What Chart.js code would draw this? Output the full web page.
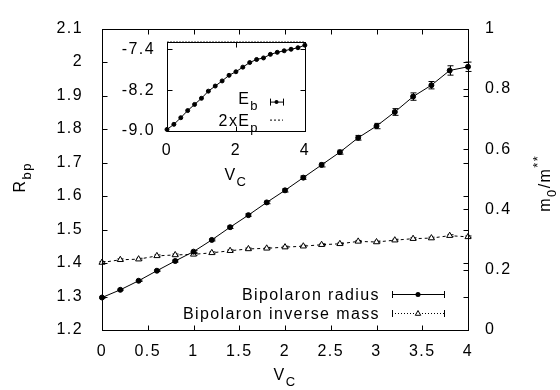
<!DOCTYPE html>
<html lang="en">
<head>
<meta charset="UTF-8">
<title>Bipolaron radius and inverse mass</title>
<script src="https://cdn.jsdelivr.net/npm/chart.js"></script>
<style>
  body { margin: 0; background: #fff; }
  #wrap { position: relative; width: 560px; height: 390px; }
  #main { position: absolute; left: 0; top: 0; width: 560px; height: 390px; }
  #inset { position: absolute; left: 110px; top: 20px; width: 210px; height: 175px; }
</style>
</head>
<body>
<div id="wrap">
  <div id="main"><canvas id="mainChart"></canvas></div>
  <div id="inset"><canvas id="insetChart"></canvas></div>
</div>
<script>
  // V_C values shared by all series
  const vc = [0, 0.2, 0.4, 0.6, 0.8, 1, 1.2, 1.4, 1.6, 1.8, 2, 2.2, 2.4, 2.6, 2.8, 3, 3.2, 3.4, 3.6, 3.8, 4];
  const radius = [1.297, 1.320, 1.347, 1.377, 1.406, 1.434, 1.469, 1.507, 1.543, 1.581, 1.617,
                  1.655, 1.693, 1.731, 1.774, 1.809, 1.851, 1.897, 1.931, 1.975, 1.986];
  const radiusErr = [0.002, 0.002, 0.002, 0.002, 0.003, 0.003, 0.003, 0.004, 0.004, 0.004, 0.005,
                     0.005, 0.006, 0.006, 0.007, 0.008, 0.010, 0.011, 0.011, 0.014, 0.014];
  const invMass = [0.224, 0.233, 0.235, 0.246, 0.249, 0.251, 0.256, 0.263, 0.269, 0.271, 0.275,
                   0.278, 0.283, 0.286, 0.294, 0.292, 0.298, 0.303, 0.305, 0.313, 0.309];
  const massErr = [0.003, 0.003, 0.003, 0.003, 0.003, 0.003, 0.003, 0.003, 0.003, 0.003, 0.003,
                   0.003, 0.003, 0.003, 0.003, 0.003, 0.003, 0.003, 0.003, 0.003, 0.003];
  // inset: E_b and 2 x E_p
  const eb = [-8.97, -8.87, -8.74, -8.60, -8.48, -8.36, -8.22, -8.12, -8.02, -7.91, -7.84,
              -7.75, -7.66, -7.60, -7.57, -7.50, -7.46, -7.43, -7.40, -7.37, -7.32];
  const ep2 = [-7.26, -7.26, -7.26, -7.26, -7.26, -7.26, -7.26, -7.26, -7.26, -7.26, -7.26,
               -7.26, -7.26, -7.26, -7.26, -7.26, -7.26, -7.26, -7.26, -7.26, -7.26];

  // tick labels
  const mainXTicks = [0, 0.5, 1, 1.5, 2, 2.5, 3, 3.5, 4];
  const mainYTicks = [1.2, 1.3, 1.4, 1.5, 1.6, 1.7, 1.8, 1.9, 2, 2.1];
  const mainY2Ticks = [0, 0.2, 0.4, 0.6, 0.8, 1];
  const insetXTicks = [0, 2, 4];
  const insetYTicks = [-9.0, -8.2, -7.4];

  const FONT = "'Liberation Sans', Arial, Helvetica, sans-serif";
  const FS = 16;
  Chart.defaults.font.family = FONT;
  Chart.defaults.font.size = FS;
  Chart.defaults.color = '#000';

  const pts = arr => arr.map((v, i) => ({ x: vc[i], y: v }));
  const setTicks = list => scale => { scale.ticks = list.map(v => ({ value: v })); };
  const fmt = v => String(Math.round(v * 10) / 10);

  // text with sub/superscripts, segs: [text, 0 | 'sub' | 'sup']
  function richText(ctx, segs, x, y, align, rot) {
    ctx.save();
    ctx.translate(x, y);
    if (rot) ctx.rotate(rot);
    ctx.textBaseline = 'alphabetic';
    ctx.textAlign = 'left';
    const small = Math.round(FS * 0.8);
    let w = 0;
    segs.forEach(s => {
      ctx.font = (s[1] ? small : FS) + 'px ' + FONT;
      s.w = ctx.measureText(s[0]).width;
      w += s.w;
    });
    let cx = align === 'center' ? -w / 2 : align === 'right' ? -w : 0;
    segs.forEach(s => {
      ctx.font = (s[1] ? small : FS) + 'px ' + FONT;
      const dy = s[1] === 'sub' ? 6 : s[1] === 'sup' ? -8 : 0;
      ctx.fillText(s[0], cx, dy);
      cx += s.w;
    });
    ctx.restore();
  }

  function hLineSample(ctx, x1, x2, y, dash, caps) {
    ctx.save();
    ctx.setLineDash(dash);
    ctx.beginPath();
    ctx.moveTo(x1, y + 0.5);
    ctx.lineTo(x2, y + 0.5);
    ctx.stroke();
    ctx.setLineDash([]);
    if (caps) {
      [x1, x2].forEach(x => {
        ctx.beginPath();
        ctx.moveTo(x + 0.5, y - 3);
        ctx.lineTo(x + 0.5, y + 4);
        ctx.stroke();
      });
    }
    ctx.restore();
  }

  function dot(ctx, x, y, r) {
    ctx.beginPath();
    ctx.arc(x, y, r, 0, Math.PI * 2);
    ctx.fill();
  }

  function triangle(ctx, x, y, r) {
    ctx.save();
    ctx.fillStyle = '#fff';
    ctx.beginPath();
    ctx.moveTo(x, y - r);
    ctx.lineTo(x + r * 0.9, y + r * 0.6);
    ctx.lineTo(x - r * 0.9, y + r * 0.6);
    ctx.closePath();
    ctx.fill();
    ctx.stroke();
    ctx.restore();
  }

  const spacing = {
    id: 'spacing',
    beforeLayout(chart) { chart.ctx.letterSpacing = '1.4px'; },
    beforeDraw(chart) { chart.ctx.letterSpacing = '1.4px'; }
  };

  // border box plus inward gnuplot style tick marks
  const frame = {
    id: 'frame',
    beforeDraw(chart, args, opts) {
      if (!opts.fill) return;
      const a = chart.chartArea;
      chart.ctx.save();
      chart.ctx.fillStyle = '#fff';
      chart.ctx.fillRect(a.left, a.top, a.right - a.left, a.bottom - a.top);
      chart.ctx.restore();
    },
    afterDraw(chart, args, opts) {
      const ctx = chart.ctx, a = chart.chartArea;
      ctx.save();
      ctx.strokeStyle = '#000';
      ctx.lineWidth = 1;
      const L = Math.round(a.left) + 0.5, R = Math.round(a.right) + 0.5;
      const T = Math.round(a.top) + 0.5, B = Math.round(a.bottom) + 0.5;
      ctx.strokeRect(L, T, R - L, B - T);
      const len = 5;
      (opts.marks || []).forEach(m => {
        const sc = chart.scales[m.scale];
        m.values.forEach(v => {
          const p = Math.round(sc.getPixelForValue(v)) + 0.5;
          ctx.beginPath();
          m.sides.forEach(side => {
            if (side === 'bottom') { ctx.moveTo(p, B); ctx.lineTo(p, B - len); }
            if (side === 'top') { ctx.moveTo(p, T); ctx.lineTo(p, T + len); }
            if (side === 'left') { ctx.moveTo(L, p); ctx.lineTo(L + len, p); }
            if (side === 'right') { ctx.moveTo(R, p); ctx.lineTo(R - len, p); }
          });
          ctx.stroke();
        });
      });
      ctx.restore();
    }
  };

  const errorBars = {
    id: 'errorBars',
    beforeDatasetsDraw(chart) {
      const ctx = chart.ctx;
      ctx.save();
      ctx.strokeStyle = '#000';
      ctx.lineWidth = 1;
      chart.data.datasets.forEach(ds => {
        if (!ds.errors) return;
        const xs = chart.scales.x, ys = chart.scales[ds.yAxisID || 'y'];
        ds.data.forEach((p, i) => {
          const x = Math.round(xs.getPixelForValue(p.x)) + 0.5;
          const y1 = ys.getPixelForValue(p.y - ds.errors[i]);
          const y2 = ys.getPixelForValue(p.y + ds.errors[i]);
          ctx.beginPath();
          ctx.moveTo(x, y1); ctx.lineTo(x, y2);
          ctx.moveTo(x - 3, y1); ctx.lineTo(x + 3, y1);
          ctx.moveTo(x - 3, y2); ctx.lineTo(x + 3, y2);
          ctx.stroke();
        });
      });
      ctx.restore();
    }
  };

  const mainDecor = {
    id: 'mainDecor',
    afterDraw(chart) {
      const ctx = chart.ctx, a = chart.chartArea;
      ctx.save();
      ctx.fillStyle = '#000';
      ctx.strokeStyle = '#000';
      ctx.lineWidth = 1;
      const cx = (a.left + a.right) / 2, cy = (a.top + a.bottom) / 2;
      richText(ctx, [['V', 0], ['C', 'sub']], cx, a.bottom + 50, 'center');
      richText(ctx, [['R', 0], ['bp', 'sub']], 25, cy - 2, 'center', -Math.PI / 2);
      richText(ctx, [['m', 0], ['0', 'sub'], ['/m', 0], ['**', 'sup']], 550, cy + 4, 'center', -Math.PI / 2);
      // legend
      const tx = a.right - 88, s1 = a.right - 76, s2 = a.right - 24, sm = (s1 + s2) / 2;
      ctx.font = FS + 'px ' + FONT;
      ctx.textAlign = 'right';
      ctx.textBaseline = 'alphabetic';
      ctx.fillText('Bipolaron radius', tx, a.bottom - 30);
      ctx.fillText('Bipolaron inverse mass', tx, a.bottom - 11);
      hLineSample(ctx, s1, s2, a.bottom - 36, [], true);
      dot(ctx, sm, a.bottom - 35.5, 2.5);
      hLineSample(ctx, s1, s2, a.bottom - 17, [1, 2], true);
      triangle(ctx, sm, a.bottom - 16.5, 3);
      ctx.restore();
    }
  };

  const insetDecor = {
    id: 'insetDecor',
    afterDraw(chart) {
      const ctx = chart.ctx, a = chart.chartArea;
      ctx.save();
      ctx.fillStyle = '#000';
      ctx.strokeStyle = '#000';
      ctx.lineWidth = 1;
      richText(ctx, [['V', 0], ['C', 'sub']], (a.left + a.right) / 2, a.bottom + 49, 'center');
      const tx = a.left + 92, s1 = a.left + 103, s2 = a.left + 116;
      richText(ctx, [['E', 0], ['b', 'sub']], tx, a.top + 62, 'right');
      richText(ctx, [['2xE', 0], ['p', 'sub']], tx, a.top + 84, 'right');
      hLineSample(ctx, s1, s2, a.top + 60, [], true);
      dot(ctx, (s1 + s2) / 2, a.top + 60.5, 2);
      hLineSample(ctx, s1, s2, a.top + 78, [2, 2], false);
      ctx.restore();
    }
  };

  new Chart(document.getElementById('mainChart'), {
    type: 'line',
    data: {
      datasets: [
        {
          label: 'Bipolaron radius',
          data: pts(radius),
          errors: radiusErr,
          yAxisID: 'y',
          borderColor: '#000',
          borderWidth: 1,
          pointRadius: 2.5,
          pointBackgroundColor: '#000',
          pointBorderColor: '#000',
          tension: 0,
          clip: false
        },
        {
          label: 'Bipolaron inverse mass',
          data: pts(invMass),
          errors: massErr,
          yAxisID: 'y2',
          borderColor: '#000',
          borderWidth: 1,
          borderDash: [3, 3],
          pointStyle: 'triangle',
          pointRadius: 3.5,
          pointBackgroundColor: '#fff',
          pointBorderColor: '#000',
          pointBorderWidth: 1,
          tension: 0,
          clip: false
        }
      ]
    },
    options: {
      responsive: true,
      maintainAspectRatio: false,
      animation: false,
      layout: { padding: { top: 15, left: 0, right: 0, bottom: 0 } },
      plugins: {
        legend: { display: false },
        tooltip: { enabled: false },
        frame: {
          marks: [
            { scale: 'x', values: mainXTicks, sides: ['bottom', 'top'] },
            { scale: 'y', values: mainYTicks, sides: ['left', 'right'] },
            { scale: 'y2', values: mainY2Ticks, sides: ['right'] }
          ]
        }
      },
      scales: {
        x: {
          type: 'linear', min: 0, max: 4,
          afterBuildTicks: setTicks(mainXTicks),
          afterFit: s => { s.height = 60; },
          ticks: { callback: fmt, padding: 12, maxRotation: 0, autoSkip: false },
          grid: { display: false, drawTicks: false },
          border: { display: false }
        },
        y: {
          type: 'linear', position: 'left', min: 1.2, max: 2.1,
          afterBuildTicks: setTicks(mainYTicks),
          afterFit: s => { s.width = 102; },
          ticks: { callback: fmt, padding: 19, autoSkip: false },
          grid: { display: false, drawTicks: false },
          border: { display: false }
        },
        y2: {
          type: 'linear', position: 'right', min: 0, max: 1,
          afterBuildTicks: setTicks(mainY2Ticks),
          afterFit: s => { s.width = 92; },
          ticks: { callback: fmt, padding: 17, autoSkip: false },
          grid: { display: false, drawTicks: false },
          border: { display: false }
        }
      }
    },
    plugins: [spacing, errorBars, frame, mainDecor]
  });

  new Chart(document.getElementById('insetChart'), {
    type: 'line',
    data: {
      datasets: [
        {
          label: 'Eb',
          data: pts(eb),
          borderColor: '#000',
          borderWidth: 1,
          pointRadius: 2,
          pointBackgroundColor: '#000',
          pointBorderColor: '#000',
          tension: 0,
          clip: false
        },
        {
          label: '2xEp',
          data: pts(ep2),
          borderColor: '#000',
          borderWidth: 1,
          borderDash: [2, 1],
          pointRadius: 0,
          tension: 0,
          clip: false
        }
      ]
    },
    options: {
      responsive: true,
      maintainAspectRatio: false,
      animation: false,
      layout: { padding: { top: 16, left: 0, right: 13, bottom: 0 } },
      plugins: {
        legend: { display: false },
        tooltip: { enabled: false },
        frame: {
          fill: true,
          marks: [
            { scale: 'x', values: insetXTicks, sides: ['bottom', 'top'] },
            { scale: 'y', values: insetYTicks, sides: ['left', 'right'] }
          ]
        }
      },
      scales: {
        x: {
          type: 'linear', min: 0, max: 4,
          afterBuildTicks: setTicks(insetXTicks),
          afterFit: s => { s.height = 64; },
          ticks: { callback: fmt, padding: 10, maxRotation: 0, autoSkip: false },
          grid: { display: false, drawTicks: false },
          border: { display: false }
        },
        y: {
          type: 'linear', min: -9.0, max: -7.25,
          afterBuildTicks: setTicks(insetYTicks),
          afterFit: s => { s.width = 57; },
          ticks: { callback: v => v.toFixed(1), padding: 12, autoSkip: false },
          grid: { display: false, drawTicks: false },
          border: { display: false }
        }
      }
    },
    plugins: [spacing, frame, insetDecor]
  });
</script>
</body>
</html>
